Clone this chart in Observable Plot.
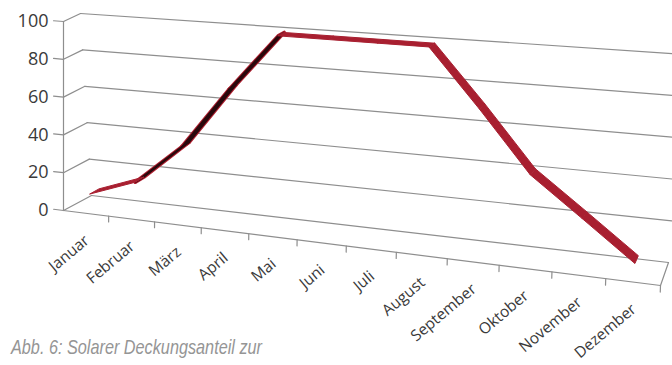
<!DOCTYPE html>
<html>
<head>
<meta charset="utf-8">
<script src="https://cdn.jsdelivr.net/npm/d3@7"></script>
<script src="https://cdn.jsdelivr.net/npm/@observablehq/plot@0.6"></script>
<style>
html, body { margin: 0; padding: 0; background: #fff; overflow: hidden; width: 672px; height: 365px; }
#chart { position: absolute; left: 0; top: 0; }
#cap { position: absolute; left: 0; top: 330px; }
</style>
</head>
<body>
<div id="chart"></div>
<svg id="cap" width="672" height="35"><text x="11" y="24" textLength="251" lengthAdjust="spacingAndGlyphs" font-family="'Liberation Sans Narrow', 'Liberation Sans', sans-serif" font-style="italic" font-weight="300" font-size="21" fill="#959595">Abb. 6: Solarer Deckungsanteil zur</text></svg>
<script>
// ---- data ----
const months = ["Januar", "Februar", "März", "April", "Mai", "Juni", "Juli", "August", "September", "Oktober", "November", "Dezember"];
const values = [9, 18, 39, 71, 100, 100, 100, 100, 72, 43, 25, 7];
const yTicks = [0, 20, 40, 60, 80, 100];

// ---- 3D perspective frame (Excel-style 3D line chart) ----
const nCat = months.length;
const foreshorten = 0.9;
const frame = {
  front: {b0: [63, 210], b1: [660, 285], t0: [63, 21], t1: [668, 66]},
  back:  {b0: [91, 195], b1: [668, 262], t0: [80, 13], t1: [684, 54]}
};
function warp(c) { const t = c / nCat; return foreshorten * t / (1 + (foreshorten - 1) * t); }
function lerp(p, q, k) { return [p[0] + (q[0] - p[0]) * k, p[1] + (q[1] - p[1]) * k]; }
function wallPoint(f, u, s) { return lerp(lerp(f.b0, f.b1, u), lerp(f.t0, f.t1, u), s); }
function project3d(c, v, w) {
  const u = warp(c), s = v / 100;
  return lerp(wallPoint(frame.front, u, s), wallPoint(frame.back, u, s), w == null ? 0 : w);
}
const perspective = d3.geoTransform({
  point(x, y, z) { const p = project3d(x, y, z); this.stream.point(p[0], p[1]); }
});

// ---- geometry built from the data ----
const line = (pts) => ({type: "Feature", properties: {}, geometry: {type: "LineString", coordinates: pts}});
const backGrid = yTicks.map((v) => line([[0, v, 1], [nCat, v, 1]]));
const sideGrid = yTicks.map((v) => line([[0, v, 0], [0, v, 1]]));
const yTickMarks = yTicks.map((v) => line([[-0.22, v, 0], [0, v, 0]]));
const xTickMarks = d3.range(1, nCat + 1).map((c) => line([[c, 0, 0], [c, -3, 0]]));
const floor = [
  line([[0, 0, 0], [nCat, 0, 0]]),
  line([[nCat, 0, 0], [nCat, 0, 1]]),
  line([[0, 0, 0], [0, 100, 0]])
];

const near = 0.15, far = 0.51;
const segments = d3.pairs(values.map((v, i) => [i + 0.5, v])).map(([a, b]) => {
  const p0 = project3d(a[0], a[1], near), p1 = project3d(b[0], b[1], near), q0 = project3d(a[0], a[1], far);
  const cross = (p1[0] - p0[0]) * (q0[1] - p0[1]) - (p1[1] - p0[1]) * (q0[0] - p0[0]);
  return {
    type: "Feature",
    properties: {back: cross > 0},
    geometry: {type: "Polygon", coordinates: [[
      [a[0], a[1], near], [b[0], b[1], near], [b[0], b[1], far], [a[0], a[1], far], [a[0], a[1], near]
    ]]}
  };
});
const frontFaces = segments.filter((d) => !d.properties.back);
const backFaces = segments.filter((d) => d.properties.back);

const gridColor = "#8e8e8e";
const chart = Plot.plot({
  width: 672,
  height: 365,
  margin: 0,
  projection: perspective,
  style: {background: "transparent", overflow: "hidden"},
  marks: [
    Plot.geo(backGrid, {stroke: gridColor, strokeWidth: 1.2}),
    Plot.geo(sideGrid, {stroke: gridColor, strokeWidth: 1.2}),
    Plot.geo(floor, {stroke: gridColor, strokeWidth: 1.2}),
    Plot.geo(yTickMarks, {stroke: gridColor, strokeWidth: 1.2}),
    Plot.geo(xTickMarks, {stroke: gridColor, strokeWidth: 1.2}),
    Plot.geo(backFaces, {fill: "#b01f30", stroke: "#b01f30", strokeWidth: 3.6, strokeLinejoin: "round"}),
    Plot.geo(backFaces, {fill: "#2a080c", stroke: "#2a080c", strokeWidth: 1.6, strokeLinejoin: "round"}),
    Plot.geo(frontFaces, {fill: "#a81f30", stroke: "#a81f30", strokeWidth: 1, strokeLinejoin: "round"}),
    Plot.text(yTicks, {
      x: () => 0, y: (d) => d, text: (d) => String(d),
      dx: -15, textAnchor: "end", fontSize: 18, fontFamily: "'Open Sans', sans-serif", fill: "#3a3a3a"
    }),
    Plot.text(months, {
      x: (d, i) => i + 0.5, y: () => 0, text: (d) => d,
      rotate: -40, textAnchor: "end", lineAnchor: "middle", dy: 25, dx: 1,
      fontSize: 15.5, fontFamily: "'Open Sans', sans-serif", fill: "#3a3a3a"
    })
  ]
});
document.getElementById("chart").appendChild(chart);
</script>
</body>
</html>
